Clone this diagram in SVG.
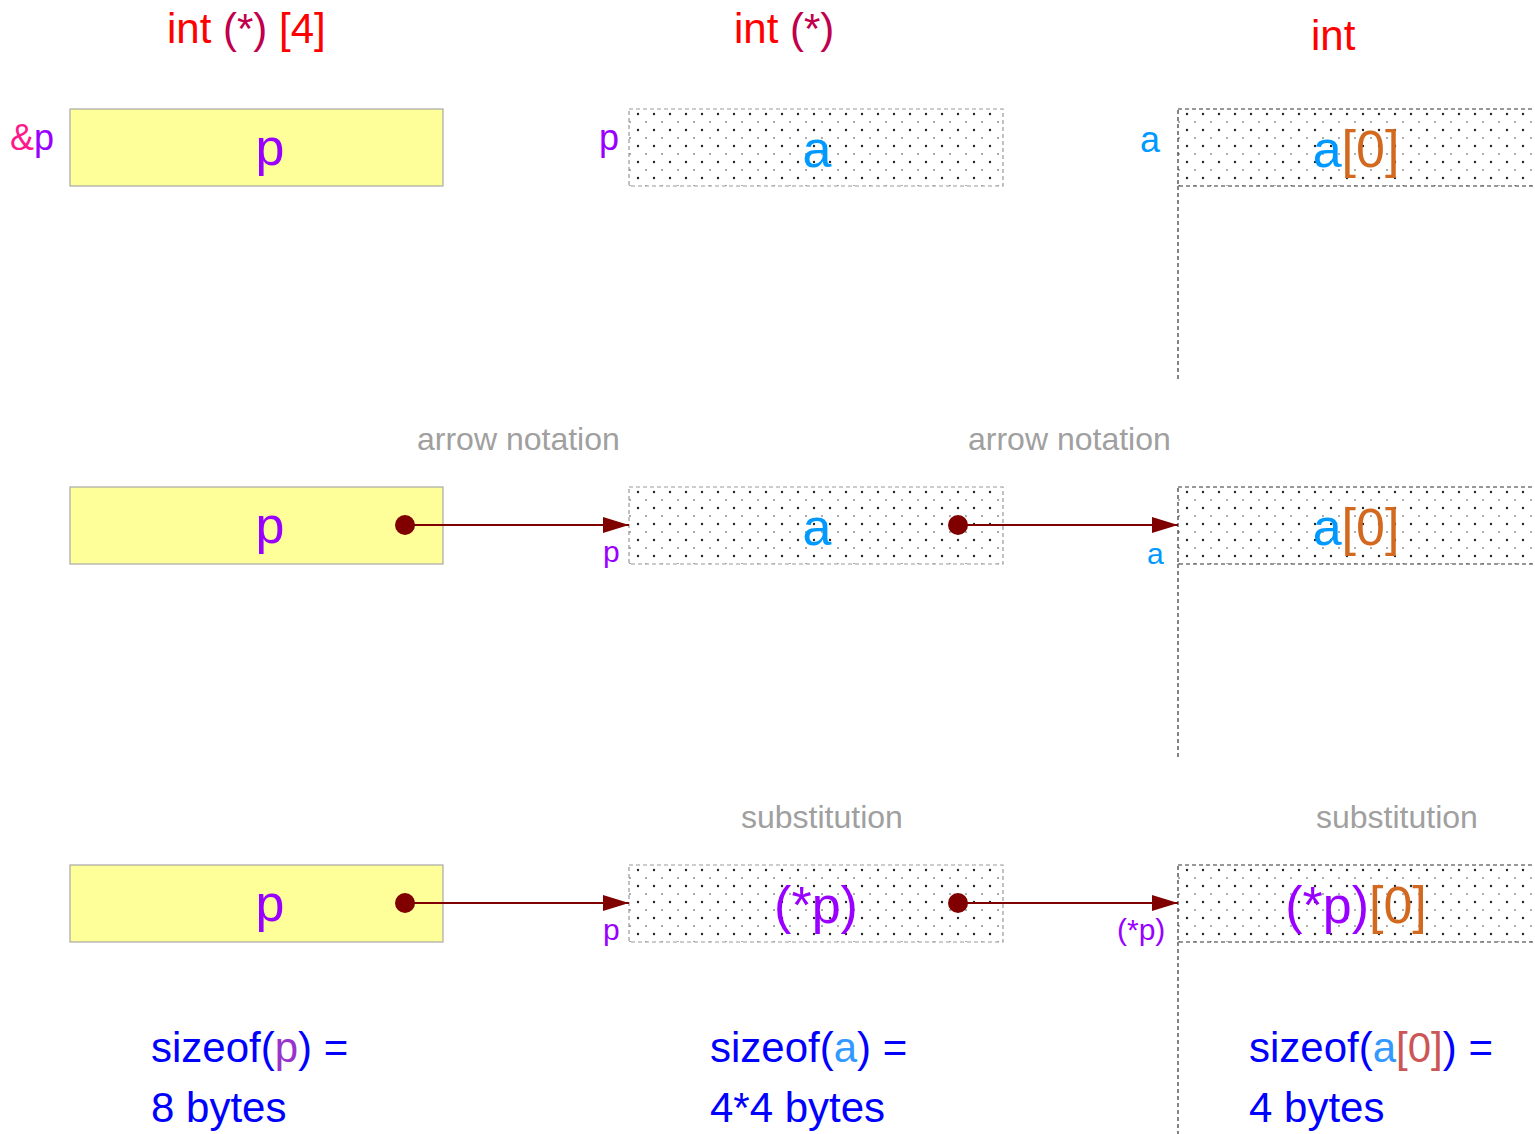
<svg xmlns="http://www.w3.org/2000/svg" width="1535" height="1134" viewBox="0 0 1535 1134">
<defs>
<pattern id="dots" patternUnits="userSpaceOnUse" width="16" height="16">
<circle cx="9" cy="5" r="1.2" fill="#222"/>
<circle cx="1" cy="13" r="0.8" fill="#444"/>
<circle cx="17" cy="13" r="0.8" fill="#444"/>
</pattern>
<marker id="arr" viewBox="0 0 26 16" refX="26" refY="8" markerWidth="26" markerHeight="16" markerUnits="userSpaceOnUse" orient="auto">
<path d="M0,0 L26,8 L0,16 Z" fill="#800000"/>
</marker>
<style>
text{font-family:"Liberation Sans",Arial,sans-serif}
.ybox{fill:#ffff99;stroke:#a8a8a8;stroke-width:1.2}
.mbox{fill:url(#dots);stroke:#999;stroke-width:1.2;stroke-dasharray:4 3}
.rbox{fill:url(#dots);stroke:#333;stroke-width:1.2;stroke-dasharray:4 3}
.vline{stroke:#333;stroke-width:1.2;stroke-dasharray:4 3;fill:none}
.conn{stroke:#800000;stroke-width:2;fill:none;marker-end:url(#arr)}
.dot{fill:#800000}
.title{font-size:42px;fill:#ff0000}
.cr{fill:#c0004c}
.big{font-size:52px;text-anchor:middle}
.lab{font-size:36px}
.slab{font-size:30px}
.note{font-size:32px;fill:#a0a0a0}
.size{font-size:42px;fill:#0000ff}
.pu{fill:#9900ff}
.bl{fill:#0099ff}
.or{fill:#d2691e}
</style>
</defs>

<g id="titles">
<text class="title" x="167" y="43">int <tspan class="cr">(*)</tspan> [4]</text>
<text class="title" x="734" y="43">int <tspan class="cr">(*)</tspan></text>
<text class="title" x="1311" y="50">int</text>
</g>

<!-- Row 1 -->
<g id="node-p1">
<rect class="ybox" x="70" y="109" width="373" height="77"/>
<text class="big pu" x="270" y="165">p</text>
<text class="lab" x="10" y="150"><tspan fill="#ff1a8c">&amp;</tspan><tspan class="pu">p</tspan></text>
</g>
<g id="node-a1">
<g transform="translate(629,109)"><rect class="mbox" x="0" y="0" width="374" height="77"/></g>
<text class="big bl" x="817" y="167">a</text>
<text class="lab pu" x="599" y="150">p</text>
</g>
<g id="node-a01">
<g transform="translate(1178,109)"><rect class="rbox" x="0" y="0" width="370" height="77"/></g>
<line class="vline" x1="1178" y1="186" x2="1178" y2="382"/>
<text class="big" x="1356" y="167"><tspan class="bl">a</tspan><tspan class="or">[0]</tspan></text>
<text class="lab bl" x="1140" y="152">a</text>
</g>

<!-- Row 2 -->
<g id="node-p2">
<rect class="ybox" x="70" y="487" width="373" height="77"/>
<text class="big pu" x="270" y="543">p</text>
</g>
<g id="node-a2">
<g transform="translate(629,487)"><rect class="mbox" x="0" y="0" width="374" height="77"/></g>
<text class="big bl" x="817" y="545">a</text>
<text class="slab pu" x="603" y="562">p</text>
</g>
<g id="node-a02">
<g transform="translate(1178,487)"><rect class="rbox" x="0" y="0" width="370" height="77"/></g>
<line class="vline" x1="1178" y1="564" x2="1178" y2="760"/>
<text class="big" x="1356" y="545"><tspan class="bl">a</tspan><tspan class="or">[0]</tspan></text>
<text class="slab bl" x="1147" y="564">a</text>
</g>
<g id="notes2">
<text class="note" x="417" y="450">arrow notation</text>
<text class="note" x="968" y="450">arrow notation</text>
</g>

<!-- Row 3 -->
<g id="node-p3">
<rect class="ybox" x="70" y="865" width="373" height="77"/>
<text class="big pu" x="270" y="921">p</text>
</g>
<g id="node-a3">
<g transform="translate(629,865)"><rect class="mbox" x="0" y="0" width="374" height="77"/></g>
<text class="big pu" x="816" y="923">(*p)</text>
<text class="slab pu" x="603" y="940">p</text>
</g>
<g id="node-a03">
<g transform="translate(1178,865)"><rect class="rbox" x="0" y="0" width="370" height="77"/></g>
<line class="vline" x1="1178" y1="942" x2="1178" y2="1134"/>
<text class="big" x="1356" y="923"><tspan class="pu">(*p)</tspan><tspan class="or">[0]</tspan></text>
<text class="slab pu" x="1117" y="940">(*p)</text>
</g>
<g id="notes3">
<text class="note" x="741" y="828">substitution</text>
<text class="note" x="1316" y="828">substitution</text>
</g>

<g id="connectors">
<circle class="dot" cx="405" cy="525" r="10"/>
<line class="conn" x1="405" y1="525" x2="629" y2="525"/>
<circle class="dot" cx="958" cy="525" r="10"/>
<line class="conn" x1="958" y1="525" x2="1178" y2="525"/>
<circle class="dot" cx="405" cy="903" r="10"/>
<line class="conn" x1="405" y1="903" x2="629" y2="903"/>
<circle class="dot" cx="958" cy="903" r="10"/>
<line class="conn" x1="958" y1="903" x2="1178" y2="903"/>
</g>

<g id="sizes">
<text class="size" x="151" y="1062">sizeof(<tspan fill="#9933cc">p</tspan>) =</text>
<text class="size" x="151" y="1122">8 bytes</text>
<text class="size" x="710" y="1062">sizeof(<tspan fill="#3399ff">a</tspan>) =</text>
<text class="size" x="710" y="1122">4*4 bytes</text>
<text class="size" x="1249" y="1062">sizeof(<tspan fill="#3399ff">a</tspan><tspan fill="#cc5555">[0]</tspan>) =</text>
<text class="size" x="1249" y="1122">4 bytes</text>
</g>
</svg>
